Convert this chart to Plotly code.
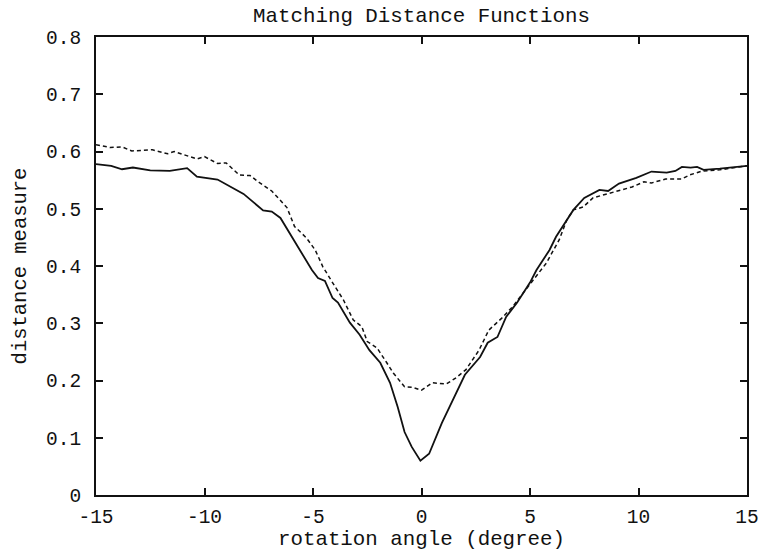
import plotly.graph_objects as go

# Solid curve
solid_x = [-15, -14.3, -13.8, -13.3, -12.5, -11.6, -10.8, -10.35, -9.4, -8.7, -8.2, -7.3, -6.9, -6.5,
           -5.9, -5.6, -5.05, -4.77, -4.45, -4.1, -3.85, -3.3, -2.85, -2.4, -1.9, -1.45, -1.1,
           -0.78, -0.45, -0.05, 0.35, 0.94, 1.4, 2.0, 2.7, 3.05, 3.5, 3.9, 4.4, 5.0, 5.3, 5.9,
           6.2, 6.5, 7.0, 7.5, 8.2, 8.6, 9.1, 9.9, 10.6, 11.3, 11.7, 12.0, 12.4, 12.7, 13.0,
           13.75, 14.35, 15]
solid_y = [0.578, 0.575, 0.569, 0.572, 0.567, 0.566, 0.571, 0.556, 0.551, 0.537, 0.526, 0.497, 0.495, 0.484,
           0.446, 0.428, 0.393, 0.379, 0.374, 0.344, 0.336, 0.301, 0.280, 0.253, 0.231, 0.196, 0.154,
           0.110, 0.084, 0.060, 0.072, 0.126, 0.163, 0.210, 0.241, 0.266, 0.276, 0.311, 0.336, 0.371, 0.393, 0.428,
           0.451, 0.468, 0.498, 0.519, 0.533, 0.531, 0.544, 0.554, 0.565, 0.563, 0.566, 0.573, 0.572, 0.573, 0.568,
           0.570, 0.573, 0.575]

# Dashed curve
dash_x = [-15, -14.35, -13.8, -13.35, -12.4, -11.7, -11.4, -10.35, -10.0, -9.4, -9.0, -8.4, -7.9, -7.45,
          -6.9, -6.2, -5.85, -5.3, -4.9, -4.55, -4.1, -3.6, -3.15, -2.75, -2.5, -2.05, -1.6, -1.3,
          -0.78, -0.4, 0.0, 0.5, 1.15, 1.6, 2.05, 2.65, 3.1, 3.7, 4.2, 5.1, 5.75, 6.35, 6.7, 7.0,
          7.45, 7.9, 8.8, 9.7, 10.25, 10.6, 11.25, 12.0, 12.35, 12.95, 13.75, 14.35, 15]
dash_y = [0.612, 0.607, 0.608, 0.601, 0.603, 0.596, 0.600, 0.587, 0.591, 0.579, 0.580, 0.559, 0.558, 0.545,
          0.531, 0.502, 0.469, 0.449, 0.428, 0.399, 0.371, 0.341, 0.306, 0.294, 0.268, 0.257, 0.231, 0.213,
          0.189, 0.188, 0.183, 0.196, 0.194, 0.205, 0.219, 0.253, 0.288, 0.309, 0.329, 0.372, 0.405, 0.446, 0.481, 0.498,
          0.503, 0.519, 0.528, 0.538, 0.547, 0.545, 0.552, 0.552, 0.559, 0.566, 0.568, 0.571, 0.575]

x_ticks = [-15, -10, -5, 0, 5, 10, 15]
x_tick_labels = ["-15", "-10", "-5", "0", "5", "10", "15"]
y_ticks = [0, 0.1, 0.2, 0.3, 0.4, 0.5, 0.6, 0.7, 0.8]
y_tick_labels = ["0", "0.1", "0.2", "0.3", "0.4", "0.5", "0.6", "0.7", "0.8"]

FONT = "Liberation Mono"
INK = "#111111"

fig = go.Figure()
fig.add_trace(go.Scatter(x=solid_x, y=solid_y, mode="lines",
                         line=dict(color=INK, width=1.8), showlegend=False))
fig.add_trace(go.Scatter(x=dash_x, y=dash_y, mode="lines",
                         line=dict(color=INK, width=1.5, dash="4px,3px"), showlegend=False))

axis_common = dict(showgrid=False, zeroline=False, showline=True, linecolor=INK, linewidth=2,
                   mirror="ticks", ticks="inside", ticklen=7, tickwidth=2, tickcolor=INK,
                   automargin=False,
                   tickfont=dict(family=FONT, size=19.5, color=INK))

fig.update_layout(
    width=759, height=551,
    margin=dict(l=96, r=12, t=37, b=56),
    paper_bgcolor="white", plot_bgcolor="white",
    title=dict(text="Matching Distance Functions", x=0.5, xanchor="center", xref="paper",
               y=0.973, yanchor="middle", automargin=False,
               font=dict(family=FONT, size=20.8, color=INK)),
    xaxis=dict(range=[-15, 15], tickvals=x_ticks, ticktext=x_tick_labels, ticklabelstandoff=3,
               title=dict(text="rotation angle (degree)", standoff=3,
                          font=dict(family=FONT, size=20.8, color=INK)), **axis_common),
    yaxis=dict(range=[0, 0.8], tickvals=y_ticks, ticktext=y_tick_labels, ticklabelstandoff=9,
               title=dict(text="distance measure", standoff=14,
                          font=dict(family=FONT, size=20.5, color=INK)), **axis_common),
)

# remove the browser's default 8px body margin so the 759x551 figure fills the window
fig.write_html("out.html", config={"displayModeBar": False},
               post_script="document.body.style.margin='0';")
